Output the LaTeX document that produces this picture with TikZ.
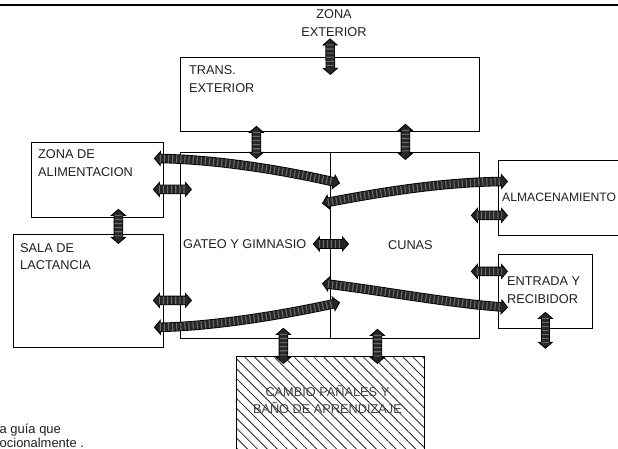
\documentclass[tikz,border=0pt]{standalone}
\usepackage{fontspec}
\setmainfont{Liberation Sans}
\usepackage{xcolor}
\usepackage{tikz}
\usetikzlibrary{arrows.meta,patterns.meta}

\definecolor{gris}{gray}{0.15}
\definecolor{rayas}{gray}{0.42}

\begin{document}
\begin{tikzpicture}[
        x = 1bp, y = -1bp,
        etiqueta/.style = {inner sep=0pt, align=left, text=black!88, font=\fontsize{12.8}{17.5}\selectfont},
        flecha/.style = {
            draw=black, line width=9.5bp,
            >={Triangle[width=16bp, length=7bp, line width=0.8bp, fill=gris]}, <->,
            postaction={draw=gris, line width=7.8bp, arrows=-, shorten <=6bp, shorten >=6bp},
            postaction={draw=rayas, line width=7.8bp, arrows=-, shorten <=6bp, shorten >=6bp, dash pattern=on 1.1bp off 3bp}
        }
    ]
    \tikzstyle{zona} = [draw=black, line width=0.8bp, anchor=north west, inner sep=0pt];
    \useasboundingbox (0,0) rectangle (618,449);
    \draw[line width=1.2bp] (-2,5) -- (620,5);

    \node [zona, minimum width=299bp, minimum height=74bp] (trans) at (180,57) {};
    \node [zona, minimum width=150bp, minimum height=186bp] (gateo) at (180,152) {};
    \node [zona, minimum width=149bp, minimum height=186bp] (cunas) at (330,152) {};
    \node [zona, minimum width=132bp, minimum height=75bp] (alim) at (31,142) {};
    \node [zona, minimum width=150bp, minimum height=113bp] (sala) at (13,234) {};
    \node [zona, minimum width=140bp, minimum height=75bp] (almac) at (498,160) {};
    \node [zona, minimum width=94bp, minimum height=74bp] (entrada) at (498,254) {};
    \node [zona, minimum width=188bp, minimum height=100bp,
        pattern={Lines[angle=-45, distance=7bp, line width=0.8bp]}, pattern color=black!85] (cambio) at (236,356) {};
    \coordinate (salida) at ([shift={(0,20)}]entrada.south);

    \node [etiqueta, anchor=north, align=center] (ezona) at (334,9.5) {ZONA\\EXTERIOR};
    \node [etiqueta, anchor=north west] (etrans) at ([shift={(9,8.5)}]trans.north west) {TRANS.\\EXTERIOR};
    \node [etiqueta, anchor=north west] (ealim) at ([shift={(7,7.5)}]alim.north west) {ZONA DE\\ALIMENTACION};
    \node [etiqueta, anchor=north west] (esala) at ([shift={(7,9)}]sala.north west) {SALA DE\\LACTANCIA};
    \node [etiqueta, anchor=north west] (egateo) at ([shift={(3,-6)}]gateo.west) {GATEO Y GIMNASIO};
    \node [etiqueta, anchor=north] (ecunas) at ([shift={(5.5,-5)}]cunas.center) {CUNAS};
    \node [etiqueta, anchor=north west, font=\fontsize{12.2}{17.5}\selectfont] (ealmac) at ([shift={(4,33)}]almac.north west) {ALMACENAMIENTO};
    \node [etiqueta, anchor=north west] (eentrada) at ([shift={(9,23)}]entrada.north west) {ENTRADA Y\\RECIBIDOR};
    \node [etiqueta, anchor=north, align=center, text=black!75] (ecambio) at ([shift={(-3,29)}]cambio.north) {CAMBIO PAÑALES Y\\BAÑO DE APRENDIZAJE};
    \node [etiqueta, anchor=north west, font=\fontsize{13}{14}\selectfont] (enota) at (-0.5,423.5) {a guía que\\ocionalmente .};

    \draw[flecha] ([shift={(-4,2)}]ezona.south) -- ([shift={(0.5,18)}]trans.north);
    \draw[flecha] ([shift={(-73.5,-6)}]trans.south) -- ([shift={(1,7)}]gateo.north);
    \draw[flecha] ([shift={(75.5,-8)}]trans.south) -- ([shift={(0.5,8)}]cunas.north);
    \draw[flecha] ([shift={(-11,9.5)}]alim.east) -- ([shift={(12,-56)}]gateo.west);
    \draw[flecha] ([shift={(21,-9)}]alim.south) -- ([shift={(30,10)}]sala.north);
    \draw[flecha] ([shift={(-11,9.5)}]sala.east) -- ([shift={(12,55)}]gateo.west);
    \draw[flecha] ([shift={(-18,-1.5)}]gateo.east) -- ([shift={(19,-1.5)}]cunas.west);
    \draw[flecha] ([shift={(-9,-30)}]cunas.east) -- ([shift={(10,17.5)}]almac.west);
    \draw[flecha] ([shift={(-9,26)}]cunas.east) -- ([shift={(10,-20)}]entrada.west);
    \draw[flecha] ([shift={(0,-17)}]entrada.south) -- (salida);
    \draw[flecha] ([shift={(28,-11)}]gateo.south) -- ([shift={(-47,8)}]cambio.north);
    \draw[flecha] ([shift={(-27.5,-10)}]cunas.south) -- ([shift={(47,8)}]cambio.north);

    \draw[flecha] ([shift={(-10,-21.5)}]alim.east) .. controls +(60,1) and +(-60,-14) .. ([shift={(10,-62)}]cunas.west);
    \draw[flecha] ([shift={(-8,-42)}]cunas.west) .. controls +(58,-11) and +(-68,1) .. ([shift={(10,-16.5)}]almac.west);
    \draw[flecha] ([shift={(-8,38)}]cunas.west) .. controls +(58,7) and +(-58,-4) .. ([shift={(10,16)}]entrada.west);
    \draw[flecha] ([shift={(-10,36.5)}]sala.east) .. controls +(60,-1) and +(-55,12) .. ([shift={(10,57)}]cunas.west);
\end{tikzpicture}
\end{document}
